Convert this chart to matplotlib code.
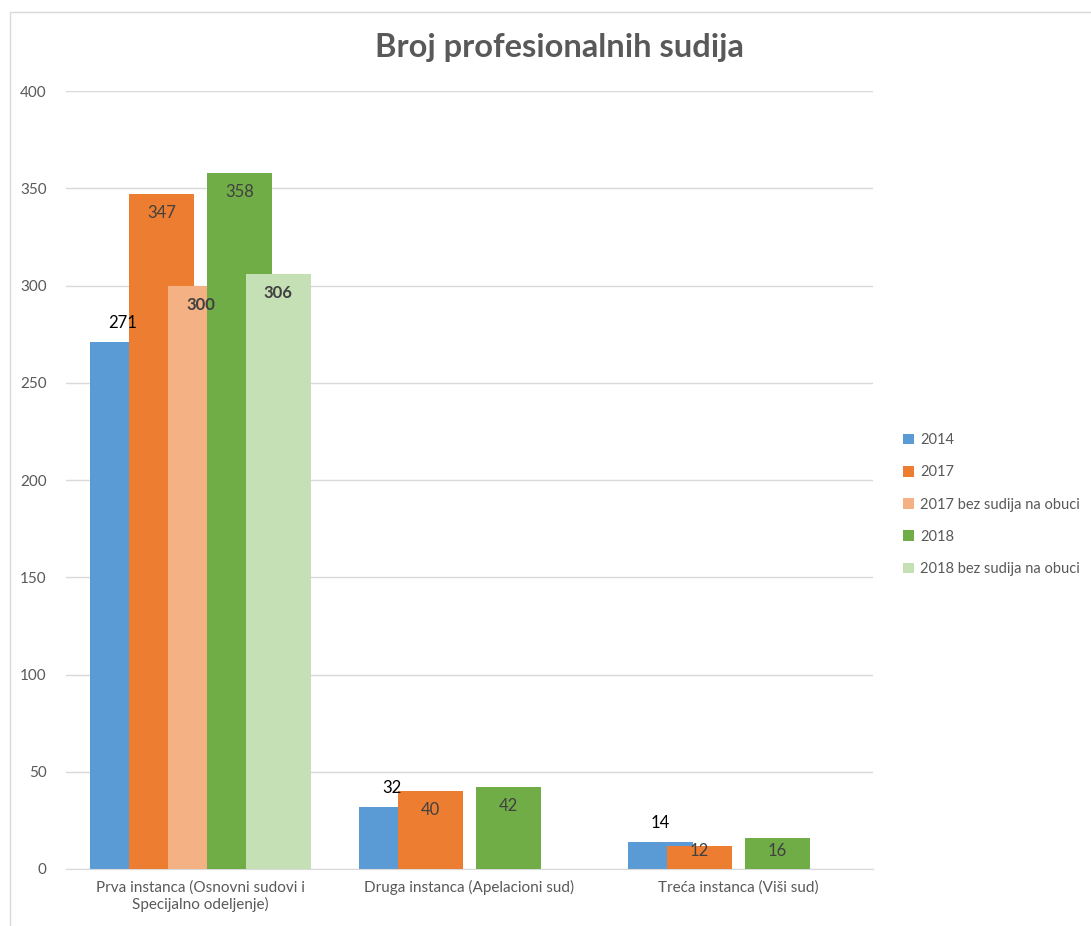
import numpy as np
import matplotlib
matplotlib.use("Agg")
import matplotlib.pyplot as plt
from matplotlib.patches import Rectangle

plt.rcParams['font.family'] = ['Lato', 'DejaVu Sans']

categories = ["Prva instanca (Osnovni sudovi i\nSpecijalno odeljenje)",
              "Druga instanca (Apelacioni sud)",
              "Treća instanca (Viši sud)"]
series_names = ["2014", "2017", "2017 bez sudija na obuci", "2018", "2018 bez sudija na obuci"]
v2014 = [271, 32, 14]
v2017 = [347, 40, 12]
v2017_bez = [300, np.nan, np.nan]
v2018 = [358, 42, 16]
v2018_bez = [306, np.nan, np.nan]
yticks = [0, 50, 100, 150, 200, 250, 300, 350, 400]

series = [v2014, v2017, v2017_bez, v2018, v2018_bez]
colors = ["#5B9BD5", "#ED7D31", "#F4B183", "#70AD47", "#C5E0B4"]
label_pos = ["out", "in", "in", "in", "in"]
label_bold = [False, False, True, False, True]
label_color = ["#000000", "#404040", "#404040", "#404040", "#404040"]

W, H = 1091, 926
fig = plt.figure(figsize=(W / 100, H / 100), dpi=100)
ax = fig.add_axes([66 / W, 1 - 869 / H, (873 - 66) / W, (869 - 91) / H])
ax.set_xlim(-0.5, len(categories) - 0.5)
ax.set_ylim(0, 400)

x = np.arange(len(categories))
width = 65 / 269
step = 38.9 / 269
legend_handles = []
for i, (vals, c) in enumerate(zip(series, colors)):
    off = (i - 2) * step
    bars = ax.bar(x + off, vals, width=width, color=c, zorder=2 + i, label=series_names[i])
    legend_handles.append(bars)
    for b, v in zip(bars, vals):
        if np.isnan(v):
            continue
        cx = b.get_x() + b.get_width() / 2
        y0 = ax.transData.transform((cx, 0))[1]
        y1 = ax.transData.transform((cx, b.get_height()))[1]
        hpx = y1 - y0
        if label_pos[i] == "out":
            dpx = 19
        else:
            dpx = -min(19, hpx - 18)
        ax.annotate(f"{int(v)}", (cx, b.get_height()), xytext=(0, dpx * 0.72),
                    textcoords="offset points", ha="center", va="center",
                    fontsize=12, color=label_color[i],
                    fontweight="bold" if label_bold[i] else "normal", zorder=20)

ax.set_yticks(yticks)
ax.set_xticks(x)
ax.set_xticklabels(categories)
ax.yaxis.grid(True, color="#d9d9d9", linewidth=1)
ax.set_axisbelow(True)
for s in ["top", "right", "left"]:
    ax.spines[s].set_visible(False)
ax.spines["bottom"].set_color("#d9d9d9")
ax.tick_params(axis="both", length=0, colors="#595959", labelsize=11)
ax.tick_params(axis="y", pad=14)
ax.tick_params(axis="x", pad=8)

fig.text(0.513, 1 - 48 / H, "Broj profesionalnih sudija", ha="center", va="center",
         fontsize=23.5, fontweight="bold", color="#595959")

leg = fig.legend(handles=legend_handles, loc="upper left",
                 bbox_to_anchor=(890 / W, 1 - 420 / H), frameon=False,
                 fontsize=10.5, labelcolor="#595959", handlelength=0.75,
                 handleheight=0.75, handletextpad=0.4, labelspacing=1.25)

fig.patches.append(Rectangle((10 / W, -0.1), 1.2, 1.1 - 12 / H, transform=fig.transFigure,
                             fill=False, edgecolor="#d9d9d9", linewidth=1))

fig.savefig("out.png", dpi=100)
